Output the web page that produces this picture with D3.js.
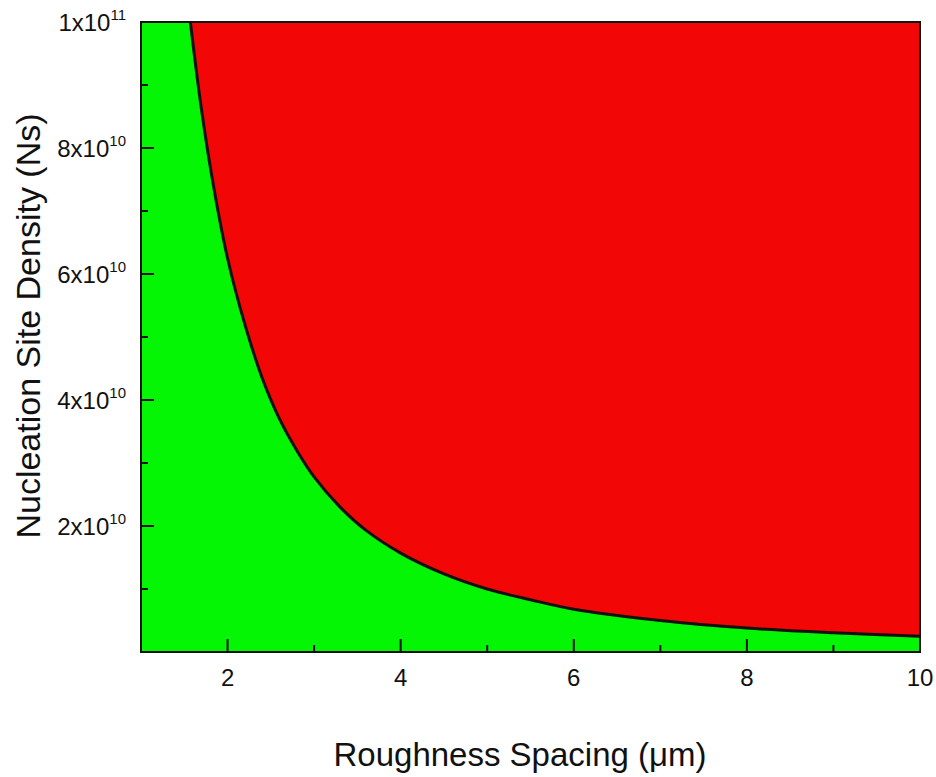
<!DOCTYPE html>
<html>
<head>
<meta charset="utf-8">
<script src="https://cdn.jsdelivr.net/npm/d3@7"></script>
<style>
  body { margin: 0; background: #fff; }
  text { font-family: "Liberation Sans", Arial, sans-serif; fill: #111; }
</style>
</head>
<body>
<div id="chart"></div>
<script>
// boundary curve: roughness spacing (um) vs nucleation site density
const spacing = [1.57, 1.7, 1.85, 2.0, 2.2, 2.4, 2.6, 2.8, 3.0, 3.3, 3.6, 4.0, 4.5, 5.0, 5.5, 6.0, 7.0, 8.0, 9.0, 10.0]
const density = [1.0e11, 8.6e10, 7.3e10, 6.25e10, 5.2e10, 4.35e10, 3.7e10, 3.2e10, 2.78e10, 2.3e10, 1.93e10,
  1.57e10, 1.24e10, 1.0e10, 8.3e9, 6.8e9, 5.0e9, 3.8e9, 3.05e9, 2.5e9]

const xTicks = [2, 4, 6, 8, 10]
const xMinorTicks = [3, 5, 7, 9]
const yTickMantissa = [2, 4, 6, 8, 1]
const yTickExponent = [10, 10, 10, 10, 11]
const yMinorTicks = [1e10, 3e10, 5e10, 7e10, 9e10]

const data = spacing.map((s, i) => ({ x: s, y: density[i] }))

const MARGIN = { LEFT: 141, RIGHT: 16, TOP: 22, BOTTOM: 125 }
const WIDTH = 936 - MARGIN.LEFT - MARGIN.RIGHT
const HEIGHT = 777 - MARGIN.TOP - MARGIN.BOTTOM

const svg = d3.select("#chart").append("svg")
  .attr("width", 936)
  .attr("height", 777)

const g = svg.append("g")
  .attr("transform", `translate(${MARGIN.LEFT}, ${MARGIN.TOP})`)

const x = d3.scaleLinear().domain([1, 10]).range([0, WIDTH])
const y = d3.scaleLinear().domain([0, 1e11]).range([HEIGHT, 0])

g.append("clipPath").attr("id", "plot-clip")
  .append("rect").attr("width", WIDTH).attr("height", HEIGHT)

const plot = g.append("g").attr("clip-path", "url(#plot-clip)")

// green region everywhere, red above the curve
plot.append("rect")
  .attr("width", WIDTH)
  .attr("height", HEIGHT)
  .attr("fill", "#04f604")

const area = d3.area()
  .x(d => x(d.x))
  .y0(d => y(d.y))
  .y1(y(1e11))
  .curve(d3.curveCatmullRom.alpha(0.5))

plot.append("path")
  .datum(data)
  .attr("d", area)
  .attr("fill", "#f20606")

const line = d3.line()
  .x(d => x(d.x))
  .y(d => y(d.y))
  .curve(d3.curveCatmullRom.alpha(0.5))

plot.append("path")
  .datum(data)
  .attr("d", line)
  .attr("fill", "none")
  .attr("stroke", "#111")
  .attr("stroke-width", 3)

// ticks (inward)
const xAxis = g.append("g").attr("transform", `translate(0, ${HEIGHT})`)
xAxis.selectAll(".major").data(xTicks).enter().append("line")
  .attr("x1", d => x(d)).attr("x2", d => x(d))
  .attr("y1", 0).attr("y2", -13)
  .attr("stroke", "#111").attr("stroke-width", 2)
xAxis.selectAll(".minor").data(xMinorTicks).enter().append("line")
  .attr("x1", d => x(d)).attr("x2", d => x(d))
  .attr("y1", 0).attr("y2", -7)
  .attr("stroke", "#111").attr("stroke-width", 2)
xAxis.selectAll(".lbl").data(xTicks).enter().append("text")
  .attr("x", d => x(d))
  .attr("y", 34)
  .attr("text-anchor", "middle")
  .attr("font-size", "24px")
  .text(d => d)

const yAxis = g.append("g")
yAxis.selectAll(".major").data(yTickMantissa).enter().append("line")
  .attr("x1", 0).attr("x2", 13)
  .attr("y1", (d, i) => y(d * Math.pow(10, yTickExponent[i])))
  .attr("y2", (d, i) => y(d * Math.pow(10, yTickExponent[i])))
  .attr("stroke", "#111").attr("stroke-width", 2)
yAxis.selectAll(".minor").data(yMinorTicks).enter().append("line")
  .attr("x1", 0).attr("x2", 7)
  .attr("y1", d => y(d)).attr("y2", d => y(d))
  .attr("stroke", "#111").attr("stroke-width", 2)

const yLbl = yAxis.selectAll(".lbl").data(yTickMantissa).enter().append("text")
  .attr("x", -15)
  .attr("y", (d, i) => y(d * Math.pow(10, yTickExponent[i])) + 9)
  .attr("text-anchor", "end")
  .attr("font-size", "24px")
yLbl.append("tspan").text(d => `${d}x10`)
yLbl.append("tspan")
  .attr("dy", -11)
  .attr("font-size", "15px")
  .text((d, i) => yTickExponent[i])

// frame
g.append("rect")
  .attr("width", WIDTH)
  .attr("height", HEIGHT)
  .attr("fill", "none")
  .attr("stroke", "#111")
  .attr("stroke-width", 2)

// axis titles
svg.append("text")
  .attr("x", 520)
  .attr("y", 766)
  .attr("text-anchor", "middle")
  .attr("font-size", "33px")
  .text("Roughness Spacing (\u03bcm)")

svg.append("text")
  .attr("transform", "rotate(-90)")
  .attr("x", -326)
  .attr("y", 40)
  .attr("text-anchor", "middle")
  .attr("font-size", "34px")
  .text("Nucleation Site Density (Ns)")
</script>
</body>
</html>
